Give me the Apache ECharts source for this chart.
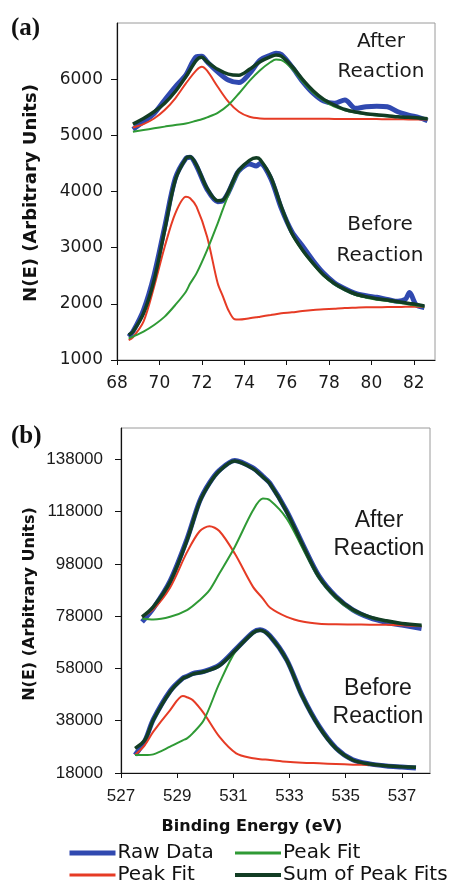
<!DOCTYPE html>
<html>
<head>
<meta charset="utf-8">
<script src="https://cdn.jsdelivr.net/npm/echarts@6/dist/echarts.min.js"></script>
<style>
html, body { margin: 0; padding: 0; background: #fff; }
#main { width: 452px; height: 883px; }
</style>
</head>
<body>
<div id="main"></div>
<script>
// (a) upper trace: after reaction
var aAfterE = [68.75, 69.25, 69.75, 70.25, 70.75, 71.25, 71.75, 72.0, 72.25, 72.75, 73.25, 73.75, 74.25, 74.75, 75.25, 75.5, 75.75, 76.25, 76.75, 77.25, 77.75, 78.25, 78.75, 79.25, 79.75, 80.25, 80.75, 81.25, 81.75, 82.25, 82.65];
var aAfterRaw = [5105, 5240, 5390, 5630, 5865, 6075, 6400, 6410, 6310, 6130, 5985, 5940, 6100, 6340, 6430, 6460, 6440, 6220, 5960, 5750, 5610, 5570, 5630, 5480, 5510, 5520, 5510, 5420, 5360, 5315, 5260];
var aAfterRed = [5140, 5200, 5300, 5450, 5660, 5925, 6160, 6220, 6150, 5865, 5600, 5420, 5330, 5300, 5295, 5295, 5295, 5295, 5295, 5295, 5294, 5293, 5292, 5291, 5290, 5289, 5288, 5286, 5284, 5282, 5280];
var aAfterGreen = [5065, 5095, 5125, 5155, 5185, 5210, 5260, 5285, 5320, 5400, 5540, 5745, 5970, 6160, 6305, 6350, 6340, 6190, 5955, 5760, 5618, 5510, 5445, 5405, 5375, 5355, 5340, 5325, 5315, 5305, 5290];
var aAfterSum = [5200, 5300, 5420, 5570, 5780, 6045, 6340, 6390, 6310, 6175, 6090, 6070, 6175, 6310, 6400, 6430, 6410, 6230, 5996, 5795, 5640, 5540, 5460, 5415, 5385, 5365, 5350, 5330, 5320, 5310, 5295];

// (a) lower trace: before reaction
var aBeforeE = [68.55, 68.75, 69.25, 69.75, 70.25, 70.75, 71.25, 71.45, 71.75, 72.25, 72.75, 73.0, 73.25, 73.55, 73.75, 74.25, 74.57, 74.75, 75.25, 75.75, 76.25, 76.75, 77.25, 77.75, 78.25, 78.75, 79.25, 79.75, 80.25, 80.75, 81.25, 81.6, 81.8, 82.1, 82.5];
var aBeforeRaw = [1415, 1505, 1890, 2513, 3373, 4234, 4590, 4608, 4453, 4038, 3818, 3836, 3979, 4230, 4370, 4489, 4453, 4500, 4234, 3700, 3285, 3030, 2768, 2543, 2377, 2270, 2187, 2145, 2116, 2080, 2045, 2080, 2200, 1990, 1932];
var aBeforeRed = [1356, 1404, 1683, 2306, 3017, 3611, 3907, 3880, 3730, 3196, 2365, 2128, 1890, 1724, 1720, 1742, 1760, 1772, 1801, 1831, 1849, 1872, 1890, 1902, 1914, 1926, 1932, 1938, 1940, 1942, 1944, 1946, 1947, 1948, 1950];
var aBeforeGreen = [1386, 1416, 1505, 1623, 1772, 1980, 2216, 2360, 2543, 2958, 3433, 3690, 3937, 4200, 4352, 4548, 4590, 4560, 4251, 3712, 3237, 2940, 2703, 2495, 2347, 2240, 2157, 2110, 2074, 2050, 2021, 2000, 1988, 1972, 1950];
var aBeforeSum = [1445, 1505, 1830, 2424, 3314, 4204, 4590, 4620, 4471, 4056, 3836, 3848, 3996, 4250, 4382, 4555, 4600, 4570, 4263, 3730, 3255, 2958, 2720, 2513, 2365, 2258, 2175, 2128, 2092, 2068, 2039, 2018, 2006, 1990, 1962];

// (b) upper trace: after reaction
var bAfterE = [527.75, 528.15, 528.75, 529.35, 529.8, 530.15, 530.5, 531.05, 531.7, 532.05, 532.3, 532.9, 533.5, 534.05, 534.65, 535.25, 535.85, 536.45, 537.0, 537.7];
var bAfterRaw = [75840, 81000, 91500, 107500, 122000, 129000, 133800, 137600, 134700, 131500, 128900, 118200, 104800, 93300, 85500, 80400, 77400, 75600, 74600, 73290];
var bAfterRed = [77750, 80600, 89000, 102500, 110500, 112400, 110600, 101960, 89220, 84760, 81320, 77750, 75840, 75100, 74880, 74820, 74760, 74690, 74500, 74180];
var bAfterGreen = [77120, 76730, 77750, 80300, 84120, 87940, 94310, 104500, 118520, 122980, 122340, 115330, 103230, 92400, 84760, 80040, 77500, 75970, 75070, 74310];
var bAfterSum = [77750, 81570, 91130, 107050, 121700, 128710, 133550, 137370, 134440, 131260, 128700, 117880, 104500, 93040, 85400, 80550, 77750, 76220, 75200, 74570];

// (b) lower trace: before reaction
var bBeforeE = [527.5, 527.85, 528.15, 528.75, 529.2, 529.35, 529.55, 529.95, 530.5, 531.1, 531.7, 531.95, 532.3, 532.9, 533.45, 534.05, 534.65, 535.25, 535.85, 536.45, 537.0, 537.5];
var bBeforeRaw = [24880, 30300, 38500, 49400, 54300, 55000, 56000, 56900, 59300, 65500, 71800, 72800, 70500, 61300, 47600, 35900, 27600, 23100, 21500, 20700, 20300, 19900];
var bBeforeRed = [24880, 28700, 33800, 42080, 47430, 47000, 45900, 40800, 31890, 25520, 23610, 23300, 22970, 22330, 21950, 21700, 21440, 21190, 21060, 20800, 20420, 20170];
var bBeforeGreen = [24880, 24880, 25140, 28070, 30500, 31250, 33160, 38260, 52270, 65010, 71380, 72400, 70490, 60930, 46920, 35450, 27170, 22840, 21310, 20670, 20290, 20040];
var bBeforeSum = [27430, 30610, 38260, 49090, 54180, 54820, 55840, 56730, 59020, 65270, 71640, 72650, 70360, 61190, 47430, 35710, 27430, 22970, 21440, 20800, 20420, 20170];

var styles = {
  'Raw Data': { color: '#3049b0', width: 5, legendWidth: 5 },
  'Peak Fit 1': { color: '#e63b25', width: 2, legendWidth: 3 },
  'Peak Fit 2': { color: '#2f9a35', width: 2, legendWidth: 3 },
  'Sum of Peak Fits': { color: '#123d24', width: 3.5, legendWidth: 4 }
};

function zip(xs, ys) {
  return xs.map(function (x, i) { return [x, ys[i]]; });
}

function line(name, xs, ys, gi) {
  return {
    name: name,
    type: 'line',
    xAxisIndex: gi,
    yAxisIndex: gi,
    data: zip(xs, ys),
    symbol: 'none',
    smooth: 0.3,
    animation: false,
    lineStyle: { color: styles[name].color, width: styles[name].width, opacity: 1 },
    itemStyle: { color: styles[name].color }
  };
}

var series = [];
[[aAfterE, aAfterRaw, aAfterRed, aAfterGreen, aAfterSum, 0],
 [aBeforeE, aBeforeRaw, aBeforeRed, aBeforeGreen, aBeforeSum, 0],
 [bAfterE, bAfterRaw, bAfterRed, bAfterGreen, bAfterSum, 1],
 [bBeforeE, bBeforeRaw, bBeforeRed, bBeforeGreen, bBeforeSum, 1]].forEach(function (t) {
  series.push(line('Raw Data', t[0], t[1], t[5]));
  series.push(line('Peak Fit 1', t[0], t[2], t[5]));
  series.push(line('Peak Fit 2', t[0], t[3], t[5]));
  series.push(line('Sum of Peak Fits', t[0], t[4], t[5]));
});

function xAx(gi, min, max, font) {
  return {
    type: 'value', gridIndex: gi, min: min, max: max, interval: 2,
    axisLine: { lineStyle: { color: '#111', width: 1.2 } },
    axisTick: { length: 5, lineStyle: { color: '#111' } },
    axisLabel: { color: '#1a1a1a', fontSize: 17, fontFamily: font, margin: 15, showMaxLabel: false },
    splitLine: { show: false }
  };
}

function yAx(gi, min, max, step, font, margin) {
  return {
    type: 'value', gridIndex: gi, min: min, max: max, interval: step,
    axisLine: { show: true, lineStyle: { color: '#111', width: 1.2 } },
    axisTick: { show: true, length: 6, lineStyle: { color: '#111' } },
    axisLabel: { color: '#1a1a1a', fontSize: 17, fontFamily: font, margin: margin, showMaxLabel: false,
      formatter: function (v) { return String(v); } },
    splitLine: { show: false }
  };
}

function legendCol(left, names) {
  return {
    orient: 'vertical', left: left, top: 843, height: 60, padding: 0,
    data: names.map(function (n) {
      return { name: n, lineStyle: { width: styles[n].legendWidth, color: styles[n].color, opacity: 1 } };
    }),
    itemWidth: 46, itemHeight: 14, itemGap: 2,
    itemStyle: { opacity: 0 },
    formatter: function (n) { return n.replace(/ \d$/, ''); },
    textStyle: { fontFamily: 'DejaVu Sans', fontSize: 20, color: '#111', lineHeight: 20, padding: [0, 0, 0, -3] }
  };
}

function note(x, y, text, font, size, lh) {
  return {
    type: 'text', x: x, y: y,
    style: { text: text, fontFamily: font, fontSize: size, lineHeight: lh, fill: '#1a1a1a', align: 'center', verticalAlign: 'middle' }
  };
}

var chart = echarts.init(document.getElementById('main'));
chart.setOption({
  backgroundColor: '#fff',
  animation: false,
  grid: [
    { left: 117, top: 23, width: 318, height: 337, show: true, borderColor: '#9a9a9a', borderWidth: 1 },
    { left: 121, top: 428, width: 309, height: 345, show: true, borderColor: '#9a9a9a', borderWidth: 1 }
  ],
  xAxis: [xAx(0, 68, 83, 'DejaVu Sans'), xAx(1, 527, 538, 'Liberation Sans')],
  yAxis: [yAx(0, 1000, 7000, 1000, 'DejaVu Sans', 14), yAx(1, 18000, 150000, 20000, 'Liberation Sans', 18)],
  legend: [legendCol(67, ['Raw Data', 'Peak Fit 1']), legendCol(233, ['Peak Fit 2', 'Sum of Peak Fits'])],
  series: series,
  graphic: [
    { type: 'text', left: 11, top: 16, style: { text: '(a)', fontFamily: 'Liberation Serif', fontWeight: 'bold', fontSize: 25, fill: '#111' } },
    { type: 'text', left: 11, top: 424, style: { text: '(b)', fontFamily: 'Liberation Serif', fontWeight: 'bold', fontSize: 25, fill: '#111' } },
    note(381, 57, 'After\nReaction', 'DejaVu Sans', 20, 30),
    note(380, 240, 'Before\nReaction', 'DejaVu Sans', 20, 31),
    note(379, 535, 'After\nReaction', 'Liberation Sans', 23, 28),
    note(378, 703, 'Before\nReaction', 'Liberation Sans', 23, 28),
    { type: 'text', x: 31, y: 193, rotation: Math.PI / 2,
      style: { text: 'N(E) (Arbitrary Units)', fontFamily: 'DejaVu Sans', fontWeight: 'bold', fontSize: 18, fill: '#111', align: 'center', verticalAlign: 'middle' } },
    { type: 'text', x: 30, y: 604, rotation: Math.PI / 2,
      style: { text: 'N(E) (Arbitrary Units)', fontFamily: 'DejaVu Sans', fontWeight: 'bold', fontSize: 16, fill: '#111', align: 'center', verticalAlign: 'middle' } },
    { type: 'text', x: 252, y: 827,
      style: { text: 'Binding Energy (eV)', fontFamily: 'DejaVu Sans', fontWeight: 'bold', fontSize: 16, fill: '#111', align: 'center', verticalAlign: 'middle' } }
  ]
});
</script>
</body>
</html>
